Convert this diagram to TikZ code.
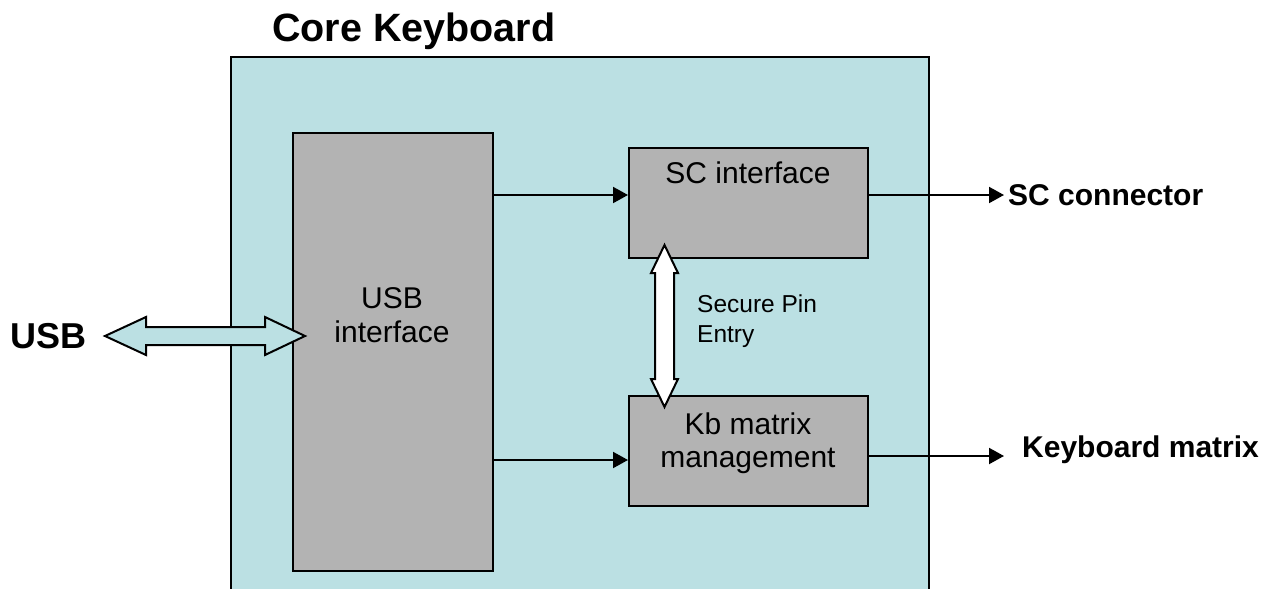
\documentclass[tikz,border=0pt]{standalone}
\usepackage{fontspec}
\setmainfont{Liberation Sans}
\usetikzlibrary{arrows.meta}
\definecolor{lblue}{RGB}{187,224,227}
\definecolor{bgray}{RGB}{179,179,179}
\begin{document}
\begin{tikzpicture}[x=1pt,y=-1pt,
  box/.style={draw,line width=2pt,fill=bgray,inner sep=0pt,anchor=north west},
  conn/.style={line width=2pt,-{Triangle[length=15pt,width=16pt]}},
  blk/.style={draw,line width=2pt,line join=miter},
  txt/.style={font=\fontsize{30}{35}\selectfont,anchor=base,inner sep=0pt},
  small/.style={font=\fontsize{24.5}{30}\selectfont,anchor=base west,inner sep=0pt},
  bold/.style={font=\fontsize{30}{35}\selectfont\bfseries,anchor=base west,inner sep=0pt}]
\useasboundingbox (0,0) rectangle (1275,589);
% outer container
\fill[lblue] (231,57) rectangle (929,595);
\draw[line width=2pt] (231,595) -- (231,57) -- (929,57) -- (929,595);
\node[font=\fontsize{39.5}{44}\selectfont\bfseries,anchor=base west,inner sep=0pt] (title) at (272,41) {Core Keyboard};
% blocks
\node[box,minimum width=200pt,minimum height=438pt] (usb) at (292,132) {};
\node[box,minimum width=239pt,minimum height=110pt] (sc) at (628,147) {};
\node[box,minimum width=239pt,minimum height=110pt] (kb) at (628,395) {};
\node[txt] (usbt1) at (392,308) {USB};
\node[txt] (usbt2) at (392,342) {interface};
\node[txt] (sct) at (748,183) {SC interface};
\node[txt] (kbt1) at (748,434) {Kb matrix};
\node[txt] (kbt2) at (748,467) {management};
% connectors
\draw[conn] (usb.east |- 0,195) -- (sc.west |- 0,195);
\draw[conn] (usb.east |- 0,460) -- (kb.west |- 0,460);
\coordinate (scend) at (1004,195);
\coordinate (kbend) at (1004,456);
\draw[conn] (sc.east |- scend) -- (scend);
\draw[conn] (kb.east |- kbend) -- (kbend);
\node[bold] (scl) at (1008,205) {SC connector};
\node[bold] (kbl) at (1022,457) {Keyboard matrix};
% USB block arrow
\node[font=\fontsize{36}{40}\selectfont\bfseries,anchor=base west,inner sep=0pt] (usbl) at (10,348) {USB};
\path[blk,fill=lblue] (105,336) -- (146,317) -- (146,327) -- (265,327) -- (265,317) -- (305,336)
  -- (265,355) -- (265,345) -- (146,345) -- (146,355) -- cycle;
% Secure pin entry block arrow
\path[blk,fill=white] (664.5,245) -- (678,273) -- (674,273) -- (674,379) -- (678,379) -- (664.5,407)
  -- (651,379) -- (655,379) -- (655,273) -- (651,273) -- cycle;
\node[small] (sp1) at (697,312) {Secure Pin};
\node[small] (sp2) at (697,342) {Entry};
\end{tikzpicture}
\end{document}
